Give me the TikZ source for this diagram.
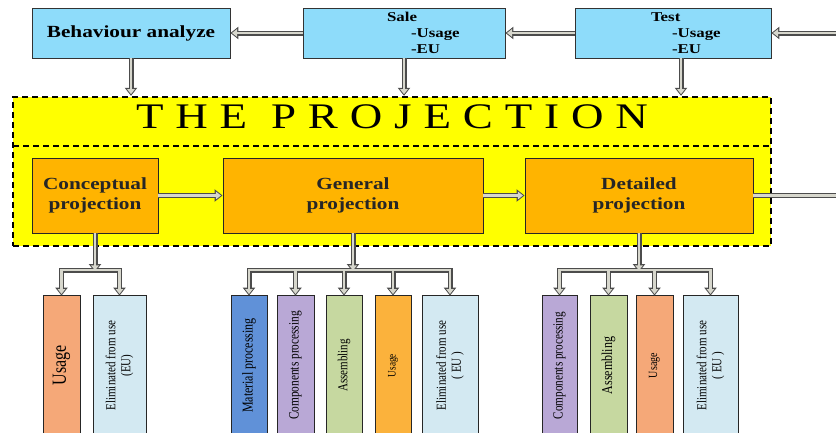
\documentclass[tikz,border=0pt]{standalone}
\usepackage{fontspec}
\setmainfont{Liberation Serif}
\newfontfamily\widefont[FakeStretch=1.25]{Liberation Serif}
\newfontfamily\narrowfont[FakeStretch=0.8]{Liberation Serif}
\usetikzlibrary{arrows.meta}
\definecolor{topblue}{RGB}{142,220,250}
\definecolor{projorange}{RGB}{255,180,0}
\definecolor{projyellow}{RGB}{255,255,0}
\definecolor{cUsage}{RGB}{245,168,120}
\definecolor{cElim}{RGB}{211,233,242}
\definecolor{cMat}{RGB}{96,145,216}
\definecolor{cComp}{RGB}{185,168,214}
\definecolor{cAss}{RGB}{198,216,160}
\definecolor{cUsageB}{RGB}{251,178,60}
\definecolor{shaft}{RGB}{215,215,205}
\tikzset{
  topbox/.style={draw=black!80, line width=0.8pt, fill=topblue, minimum height=50pt, inner sep=0pt},
  projbox/.style={draw=black!85, line width=0.9pt, fill=projorange, minimum height=75pt, inner sep=0pt,
    font=\widefont\bfseries\fontsize{17}{20}\selectfont, align=center, text=black!85},
  bar/.style={draw=black!85, line width=0.8pt, rotate=90, minimum width=141pt, inner sep=0pt, align=center,
    font=\narrowfont\fontsize{13.75}{15}\selectfont},
  aout/.style={draw=black!70, line width=5pt, -{Triangle[length=8pt, width=12pt, fill=black!70]}},
  ain/.style={draw=shaft, line width=2.4pt, shorten >=1.6pt, -{Triangle[length=5pt, width=7.5pt, fill=shaft]}},
  lout/.style={draw=black!70, line width=5pt},
  lin/.style={draw=shaft, line width=2.4pt},
  dashbox/.style={draw=black, line width=2.4pt, dash pattern=on 6pt off 4pt},
}
\begin{document}
\begin{tikzpicture}[x=1pt,y=-1pt]
\useasboundingbox (0,0) rectangle (836,432);
% yellow projection frame
\node[fill=projyellow, dashbox, minimum width=758pt, minimum height=149pt, inner sep=0pt] (proj) at (392,171.5) {};
\coordinate (sepL) at (13,146);
\coordinate (sepR) at (771,146);
\draw[dashbox] (sepL) -- (sepR);
\node[anchor=base, font=\widefont\fontsize{36}{40}\selectfont, inner sep=0pt] (title) at (392,128)
  {\makebox[512pt][s]{T\hfill H\hfill E\hfill\hfill P\hfill R\hfill O\hfill J\hfill E\hfill C\hfill T\hfill I\hfill O\hfill N}};
% top boxes
\node[topbox, minimum width=198pt, font=\widefont\bfseries\fontsize{17}{20}\selectfont] (beh) at (131,33) {Behaviour analyze};
\node[topbox, minimum width=202pt, text width=192pt, align=left, font=\widefont\bfseries\fontsize{13.5}{16}\selectfont] (sale) at (404,33)
  {\hspace*{79pt}Sale\\\hspace*{103pt}-Usage\\\hspace*{103pt}-EU};
\node[topbox, minimum width=196pt, text width=186pt, align=left, font=\widefont\bfseries\fontsize{13.5}{16}\selectfont] (test) at (673,33)
  {\hspace*{71pt}Test\\\hspace*{92pt}-Usage\\\hspace*{92pt}-EU};
\coordinate (inR) at (842,33);
% projection boxes
\node[projbox, minimum width=126pt] (con) at (95,195.5) {Conceptual\\projection};
\node[projbox, minimum width=260pt] (gen) at (353,195.5) {General\\projection};
\node[projbox, minimum width=228pt] (det) at (639,195.5) {Detailed\\projection};
\coordinate (outR) at (842,195.5);
% bars: conceptual
\node[bar, minimum height=37pt, fill=cUsage, font=\narrowfont\fontsize{20}{22}\selectfont] (c1) at (61.5,365.5) {Usage};
\node[bar, minimum height=53pt, fill=cElim] (c2) at (119.5,365.5) {Eliminated from use\\(EU)};
% bars: general
\node[bar, minimum height=36pt, fill=cMat, font=\narrowfont\fontsize{15}{17}\selectfont] (g1) at (249,365.5) {Material processing};
\node[bar, minimum height=37pt, fill=cComp, font=\narrowfont\fontsize{14.2}{16}\selectfont] (g2) at (295.5,365.5) {Components processing};
\node[bar, minimum height=36pt, fill=cAss] (g3) at (344,365.5) {Assembling};
\node[bar, minimum height=36pt, fill=cUsageB, font=\narrowfont\fontsize{11.5}{13}\selectfont] (g4) at (393,365.5) {Usage};
\node[bar, minimum height=56pt, fill=cElim] (g5) at (450,365.5) {Eliminated from use\\( EU )};
% bars: detailed
\node[bar, minimum height=35pt, fill=cComp, font=\narrowfont\fontsize{14}{16}\selectfont] (d1) at (559.5,365.5) {Components processing};
\node[bar, minimum height=37pt, fill=cAss, font=\narrowfont\fontsize{15}{17}\selectfont] (d2) at (608.5,365.5) {Assembling};
\node[bar, minimum height=37pt, fill=cUsage, font=\narrowfont\fontsize{12.5}{14}\selectfont] (d3) at (654.5,365.5) {Usage};
\node[bar, minimum height=55pt, fill=cElim] (d4) at (710.5,365.5) {Eliminated from use\\( EU )};
% branch points
\coordinate (cb) at (95,270);
\coordinate (gb) at (353,270);
\coordinate (db) at (639,270);
% connectors: outer strokes first, then inner strokes
\foreach \A/\L in {aout/lout, ain/lin}{
  \draw[\A] (inR) -- (test.east);
  \draw[\A] (test.west) -- (sale.east);
  \draw[\A] (sale.west) -- (beh.east);
  \draw[\A] (beh.south) -- (beh.south |- proj.north);
  \draw[\A] (sale.south) -- (sale.south |- proj.north);
  \draw[\A] ([xshift=8pt]test.south) -- ([xshift=8pt]test.south |- proj.north);
  \draw[\A] (con.east) -- (gen.west);
  \draw[\A] (gen.east) -- (det.west);
  \draw[\L] (det.east) -- (outR);
  \draw[\L, line cap=rect] (c1.east |- cb) -- (c2.east |- cb);
  \draw[\L, line cap=rect] (g1.east |- gb) -- (g5.east |- gb);
  \draw[\L, line cap=rect] (d1.east |- db) -- (d4.east |- db);
  \draw[\A] (con.south) -- ([yshift=-2pt]cb);
  \draw[\A] (gen.south) -- ([yshift=-2pt]gb);
  \draw[\A] (det.south) -- ([yshift=-2pt]db);
  \foreach \n in {c1,c2}{\draw[\A] (\n.east |- cb) -- ([yshift=-1pt]\n.east);}
  \foreach \n in {g1,g2,g3,g4,g5}{\draw[\A] (\n.east |- gb) -- ([yshift=-1pt]\n.east);}
  \foreach \n in {d1,d2,d3,d4}{\draw[\A] (\n.east |- db) -- ([yshift=-1pt]\n.east);}
}
\end{tikzpicture}
\end{document}
